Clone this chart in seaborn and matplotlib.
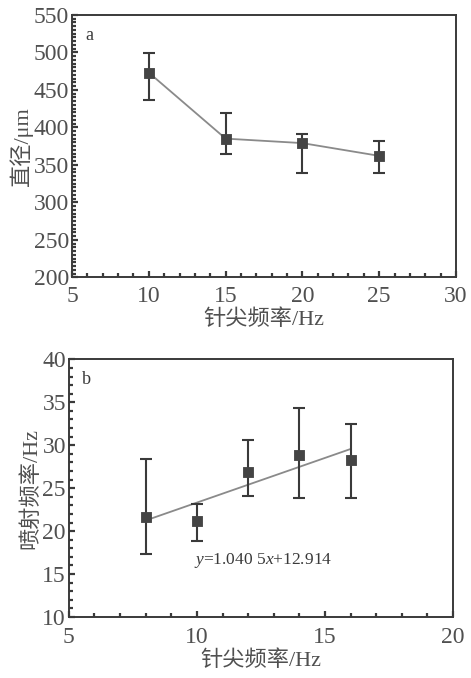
import numpy as np
import pandas as pd
import matplotlib
matplotlib.use("Agg")
import matplotlib.pyplot as plt
import seaborn as sns
from matplotlib.ticker import MultipleLocator

# panel a: tip frequency vs diameter
freq_a = [10, 15, 20, 25]
diam = [473, 385, 379, 362]
diam_lo = [436, 364, 339, 339]
diam_hi = [499, 419, 391, 382]

# panel b: tip frequency vs jetting frequency
freq_b = [8, 10, 12, 14, 16]
jet = [21.6, 21.2, 26.9, 28.9, 28.3]
jet_lo = [17.3, 18.9, 24.1, 23.9, 23.8]
jet_hi = [28.4, 23.1, 30.6, 34.3, 32.5]
fit_slope = 1.0405
fit_icpt = 12.914
fit_x = [8.2, 16.0]

sns.set_style("ticks")
serif = ["Liberation Serif", "Noto Sans CJK SC"]
plt.rcParams["font.family"] = serif
plt.rcParams["axes.unicode_minus"] = False
plt.rcParams["mathtext.fontset"] = "custom"
plt.rcParams["mathtext.it"] = "Liberation Serif:italic"
plt.rcParams["mathtext.rm"] = "Liberation Serif"

ink = "#3a3a3a"
txt = "#505050"
fig = plt.figure(figsize=(4.71, 6.78), dpi=100)
ax1 = fig.add_axes([0.153, 0.591, 0.815, 0.387])
ax2 = fig.add_axes([0.146, 0.090, 0.816, 0.380])


def style_axes(ax, xpad):
    for s in ax.spines.values():
        s.set_visible(True)
        s.set_color(ink)
        s.set_linewidth(1.4)
    ax.tick_params(which="both", direction="in", colors=ink, labelcolor=txt,
                   labelsize=17, top=False, right=False, pad=2)
    ax.tick_params(axis="x", which="both", pad=xpad)
    ax.tick_params(which="major", length=4, width=1.6)
    ax.tick_params(which="minor", length=3, width=1.6)


# --- panel a ---
df_a = pd.DataFrame({"f": freq_a, "d": diam})
yerr_a = [np.subtract(diam, diam_lo), np.subtract(diam_hi, diam)]
ax1.errorbar(freq_a, diam, yerr=yerr_a, fmt="none", ecolor=ink, elinewidth=1.5,
             capsize=4.5, capthick=1.5, zorder=2)
sns.lineplot(data=df_a, x="f", y="d", ax=ax1, color="#8a8a8a", lw=1.3, zorder=1)
sns.scatterplot(data=df_a, x="f", y="d", ax=ax1, marker="s", s=60, color="#444444",
                edgecolor="#444444", zorder=3)
ax1.set_xlim(5, 30)
ax1.set_ylim(200, 550)
ax1.xaxis.set_major_locator(MultipleLocator(5))
ax1.xaxis.set_minor_locator(MultipleLocator(1))
ax1.yaxis.set_major_locator(MultipleLocator(50))
ax1.yaxis.set_minor_locator(MultipleLocator(5))
ax1.set_xlabel("针尖频率/Hz", fontsize=16, color=txt, labelpad=2)
ax1.set_ylabel("直径/μm", fontsize=16, color=txt, labelpad=1)
ax1.text(0.035, 0.955, "a", transform=ax1.transAxes, fontsize=13, color=ink, va="top")
style_axes(ax1, 6)

# --- panel b ---
df_b = pd.DataFrame({"f": freq_b, "j": jet})
yerr_b = [np.subtract(jet, jet_lo), np.subtract(jet_hi, jet)]
ax2.errorbar(freq_b, jet, yerr=yerr_b, fmt="none", ecolor=ink, elinewidth=1.5,
             capsize=4.5, capthick=1.5, zorder=2)
fit_df = pd.DataFrame({"x": fit_x, "y": [fit_slope * v + fit_icpt for v in fit_x]})
sns.lineplot(data=fit_df, x="x", y="y", ax=ax2, color="#8a8a8a", lw=1.3, zorder=1)
sns.scatterplot(data=df_b, x="f", y="j", ax=ax2, marker="s", s=60, color="#444444",
                edgecolor="#444444", zorder=3)
ax2.set_xlim(5, 20)
ax2.set_ylim(10, 40)
ax2.xaxis.set_major_locator(MultipleLocator(5))
ax2.xaxis.set_minor_locator(MultipleLocator(1))
ax2.yaxis.set_major_locator(MultipleLocator(5))
ax2.yaxis.set_minor_locator(MultipleLocator(1))
ax2.set_xlabel("针尖频率/Hz", fontsize=16, color=txt, labelpad=2)
ax2.set_ylabel("喷射频率/Hz", fontsize=16, color=txt, labelpad=1)
ax2.text(0.035, 0.955, "b", transform=ax2.transAxes, fontsize=13, color=ink, va="top")
ax2.text(9.9, 16.6, r"$\it{y}$=1.040 5$\it{x}$+12.914", fontsize=12.5, color=ink,
         va="center")
style_axes(ax2, 7)

fig.savefig("out.png", dpi=100)
